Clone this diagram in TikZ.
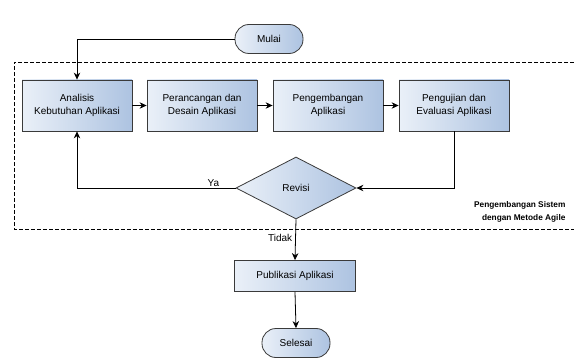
\documentclass[tikz,border=0pt]{standalone}
\usepackage{fontspec}
\setmainfont{Liberation Sans}
\usetikzlibrary{arrows.meta,shapes.geometric}
\definecolor{fillL}{HTML}{EAF0F8}
\definecolor{fillR}{HTML}{ADC3E1}
\definecolor{strk}{HTML}{3A3A3A}
\begin{document}
\begin{tikzpicture}[x=1pt,y=-1pt,
  proc/.style={draw=strk, line width=0.8pt, left color=fillL, right color=fillR,
    minimum width=110pt, minimum height=51pt, align=center,
    font=\fontsize{10}{13}\selectfont, inner sep=2pt},
  term/.style={proc, rounded corners=14pt, minimum width=68pt, minimum height=29pt},
  dec/.style={draw=strk, line width=0.8pt, diamond, left color=fillL, right color=fillR,
    minimum width=120pt, minimum height=62pt, inner sep=0pt,
    font=\fontsize{10}{13}\selectfont},
  arr/.style={-{Stealth[length=7pt,width=6.5pt]}, line width=0.8pt, draw=black},
  lbl/.style={font=\fontsize{10}{13}\selectfont, inner sep=1pt}]
\useasboundingbox (0,0) rectangle (574,361);
\draw[dash pattern=on 4pt off 2pt, line width=0.7pt] (580,62) -- (14,62) -- (14,229) -- (580,229);
\node[term] (mulai) at (269,39) {Mulai};
\node[proc] (b1) at (77,105.5) {Analisis\\Kebutuhan Aplikasi};
\node[proc] (b2) at (202,105.5) {Perancangan dan\\Desain Aplikasi};
\node[proc] (b3) at (328,105.5) {Pengembangan\\Aplikasi};
\node[proc] (b4) at (454,105.5) {Pengujian dan\\Evaluasi Aplikasi};
\node[dec] (rev) at (296,188) {Revisi};
\node[proc, minimum width=121pt, minimum height=31pt] (pub) at (295,276) {Publikasi Aplikasi};
\node[term] (sel) at (296,343) {Selesai};
\node[align=right, anchor=east, font=\bfseries\fontsize{8.3}{13}\selectfont] (note) at (569,211.5) {Pengembangan Sistem\\dengan Metode Agile};
\draw[arr] (mulai.west) -| (b1.north);
\draw[arr] (b1.east) -- (b2.west);
\draw[arr] (b2.east) -- (b3.west);
\draw[arr] (b3.east) -- (b4.west);
\draw[arr] (b4.south) |- (rev.east);
\draw[arr] (rev.west) -| node[pos=0.07, above, lbl] {Ya} (b1.south);
\draw[arr] (rev.south) -- node[pos=0.45, left, lbl, xshift=-2pt] {Tidak} (pub.north);
\draw[arr] (pub.south) -- (sel.north);
\end{tikzpicture}
\end{document}
